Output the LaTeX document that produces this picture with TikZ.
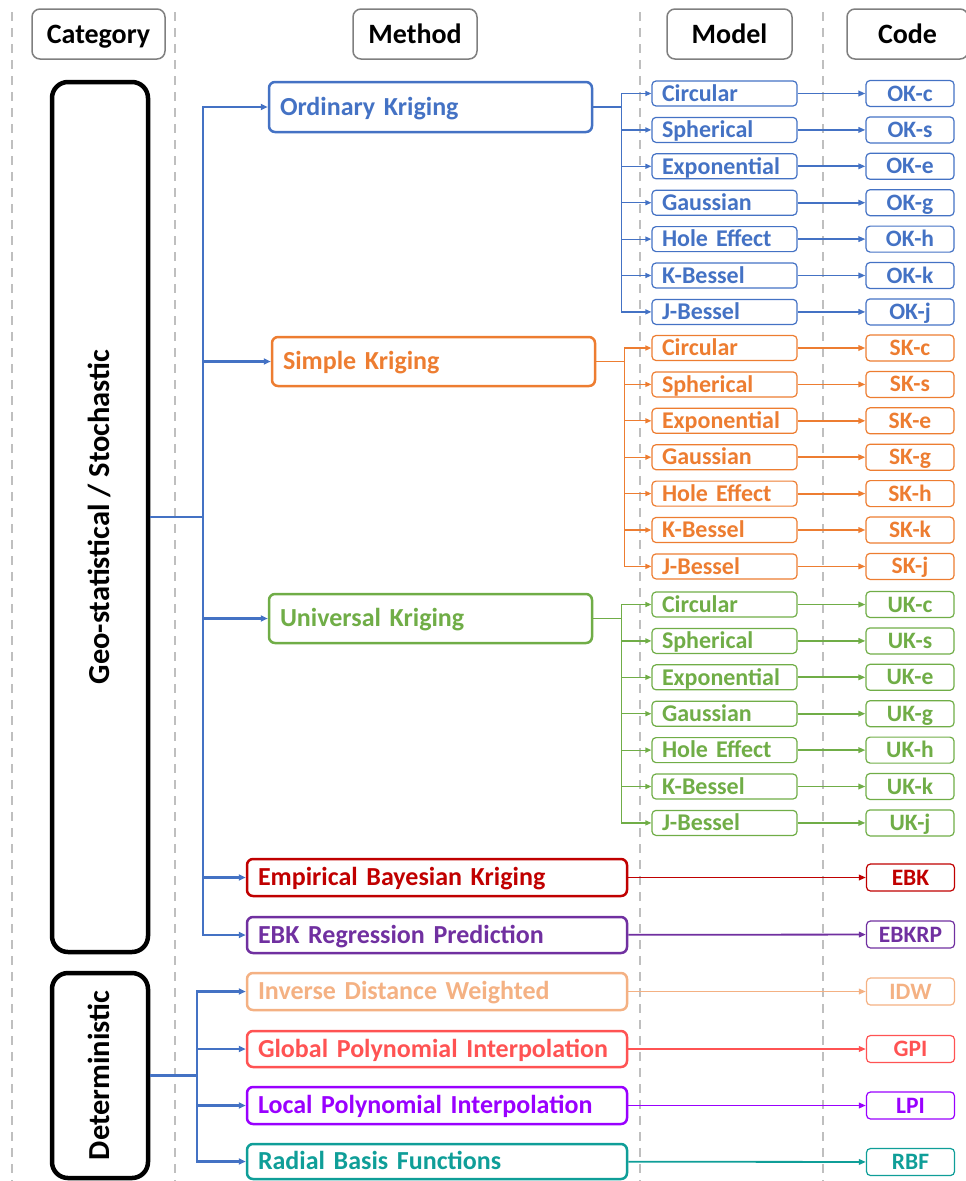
\documentclass[tikz,border=0pt]{standalone}
\usepackage{fontspec}
\setmainfont{Carlito}[BoldFont={Carlito Bold}]
\usetikzlibrary{arrows.meta}
\definecolor{cblue}{HTML}{4472C4}
\definecolor{corange}{HTML}{ED7D31}
\definecolor{cgreen}{HTML}{70AD47}
\definecolor{cebk}{HTML}{C00000}
\definecolor{cebkrp}{HTML}{7030A0}
\definecolor{cidw}{HTML}{F4B183}
\definecolor{cgpi}{HTML}{FF5353}
\definecolor{clpi}{HTML}{9900FF}
\definecolor{crbf}{HTML}{0F9E98}
\definecolor{hdrgray}{HTML}{7F7F7F}
\definecolor{sepgray}{HTML}{BFBFBF}
\begin{document}
\begin{tikzpicture}[x=1pt,y=-1pt,
  hdr/.style={draw=hdrgray, line width=1.5pt, rounded corners=8pt, minimum height=50pt, inner sep=0pt, text height=18pt, text depth=0pt, font=\fontsize{28}{32}\selectfont\bfseries},
  catbox/.style={draw=black, line width=4.5pt, rounded corners=16pt, minimum width=96pt, inner sep=0pt},
  cattxt/.style={rotate=90, inner sep=0pt, text height=19.6pt, text depth=0pt, font=\fontsize{30.5}{34}\selectfont\bfseries},
  meth/.style={draw=#1, text=#1, line width=2.5pt, rounded corners=6pt, inner xsep=11pt, inner ysep=0pt, align=left, text height=16.7pt, text depth=0pt, font=\fontsize{26}{30}\selectfont\bfseries},
  modelbox/.style={draw=#1, text=#1, line width=1.2pt, rounded corners=4pt, inner xsep=10pt, inner ysep=0pt, text width=125pt, minimum height=25pt, align=left, text height=15.5pt, text depth=0pt, font=\fontsize{24}{26}\selectfont\bfseries},
  codebox/.style={draw=#1, text=#1, line width=1.2pt, rounded corners=4pt, inner sep=0pt, minimum width=88pt, minimum height=26pt, text height=15.1pt, text depth=0pt, font=\fontsize{23.5}{26}\selectfont\bfseries},
  sep/.style={draw=sepgray, line width=2pt, dash pattern=on 9pt off 7pt},
  trunk/.style={draw=cblue, line width=2.5pt, -{Triangle[length=7pt,width=6pt]}},
  branch/.style={draw=#1, line width=1.2pt, -{Triangle[length=6pt,width=5pt]}},
  link/.style={draw=#1, line width=1.8pt, -{Triangle[length=7pt,width=5.5pt]}},
]
\useasboundingbox (0,0) rectangle (966,1181);
% separators
\foreach \x in {12,175,640,823} \draw[sep] (\x,12) -- (\x,1181);
% headers
\node[hdr, minimum width=133pt] (hcat) at (98.5,34) {Category};
\node[hdr, minimum width=124pt] (hmeth) at (415,34) {Method};
\node[hdr, minimum width=125pt] (hmod) at (729.5,34) {Model};
\node[hdr, minimum width=121pt] (hcode) at (907.5,34) {Code};
% category boxes
\node[catbox, minimum height=870pt] (geo) at (100,517) {};
\node[cattxt] (geotxt) at (geo.center) {Geo-statistical / Stochastic};
\node[catbox, minimum height=205pt] (det) at (100,1075.5) {};
\node[cattxt] (dettxt) at (det.center) {Deterministic};
% kriging method boxes
\node[meth=cblue, text width=301pt, minimum height=50pt] (ok) at (430.5,107) {Ordinary Kriging};
\node[meth=corange, text width=301pt, minimum height=49pt] (sk) at (433.5,361.5) {Simple Kriging};
\node[meth=cgreen, text width=301pt, minimum height=49pt] (uk) at (430.5,618.5) {Universal Kriging};
% other methods
\node[meth=cebk, text width=358pt, minimum height=37pt] (ebk) at (437,877.5) {Empirical Bayesian Kriging};
\node[meth=cebkrp, text width=358pt, minimum height=36pt] (ebkrp) at (437,935) {EBK Regression Prediction};
\node[meth=cidw, text width=358pt, minimum height=37pt] (idw) at (437,991.5) {Inverse Distance Weighted};
\node[meth=cgpi, text width=358pt, minimum height=36pt] (gpi) at (437,1049) {Global Polynomial Interpolation};
\node[meth=clpi, text width=358pt, minimum height=37pt] (lpi) at (437,1105.5) {Local Polynomial Interpolation};
\node[meth=crbf, text width=358pt, minimum height=35pt] (rbf) at (437,1161.5) {Radial Basis Functions};
% codes for other methods
\node[codebox=cebk, minimum height=27pt] (ebkc) at (910.5,877.5) {EBK};
\node[codebox=cebkrp, minimum height=27pt] (ebkrpc) at (910.5,934.5) {EBKRP};
\node[codebox=cidw, minimum height=27pt] (idwc) at (910.5,991.5) {IDW};
\node[codebox=cgpi, minimum height=27pt] (gpic) at (910.5,1049) {GPI};
\node[codebox=clpi, minimum height=27pt] (lpic) at (910.5,1105.5) {LPI};
\node[codebox=crbf, minimum height=27pt] (rbfc) at (910.5,1162) {RBF};
\draw[link=cebk] (ebk) -- (ebkc);
\draw[link=cebkrp] (ebkrp) -- (ebkrpc);
\draw[link=cidw] (idw) -- (idwc);
\draw[link=cgpi] (gpi) -- (gpic);
\draw[link=clpi] (lpi) -- (lpic);
\draw[link=crbf] (rbf) -- (rbfc);
% models and codes
\foreach \grp/\GRP/\col/\ystart in {ok/OK/cblue/93.5, sk/SK/corange/348, uk/UK/cgreen/604.5}{
  \foreach \m/\s [count=\i] in {Circular/c, Spherical/s, Exponential/e, Gaussian/g, Hole Effect/h, K-Bessel/k, J-Bessel/j}{
    \pgfmathsetmacro\yy{\ystart+(\i-1)*36.4}
    \node[modelbox=\col] (\grp m\i) at (724.5,\yy) {\m};
    \node[codebox=\col] (\grp c\i) at (910,\yy) {\GRP-\s};
    \draw[link=\col] (\grp m\i) -- (\grp c\i);
    \draw[branch=\col] (\grp.east) -- ++(28,0) |- (\grp m\i.west);
  }
}
% category trunks
\coordinate (gt) at (203,517);
\foreach \t in {ok,sk,uk,ebk,ebkrp} \draw[trunk] (geo.east) -- (gt) |- (\t.west);
\coordinate (dt) at (197,1075.5);
\foreach \t in {idw,gpi,lpi,rbf} \draw[trunk] (det.east) -- (dt) |- (\t.west);
\end{tikzpicture}
\end{document}
